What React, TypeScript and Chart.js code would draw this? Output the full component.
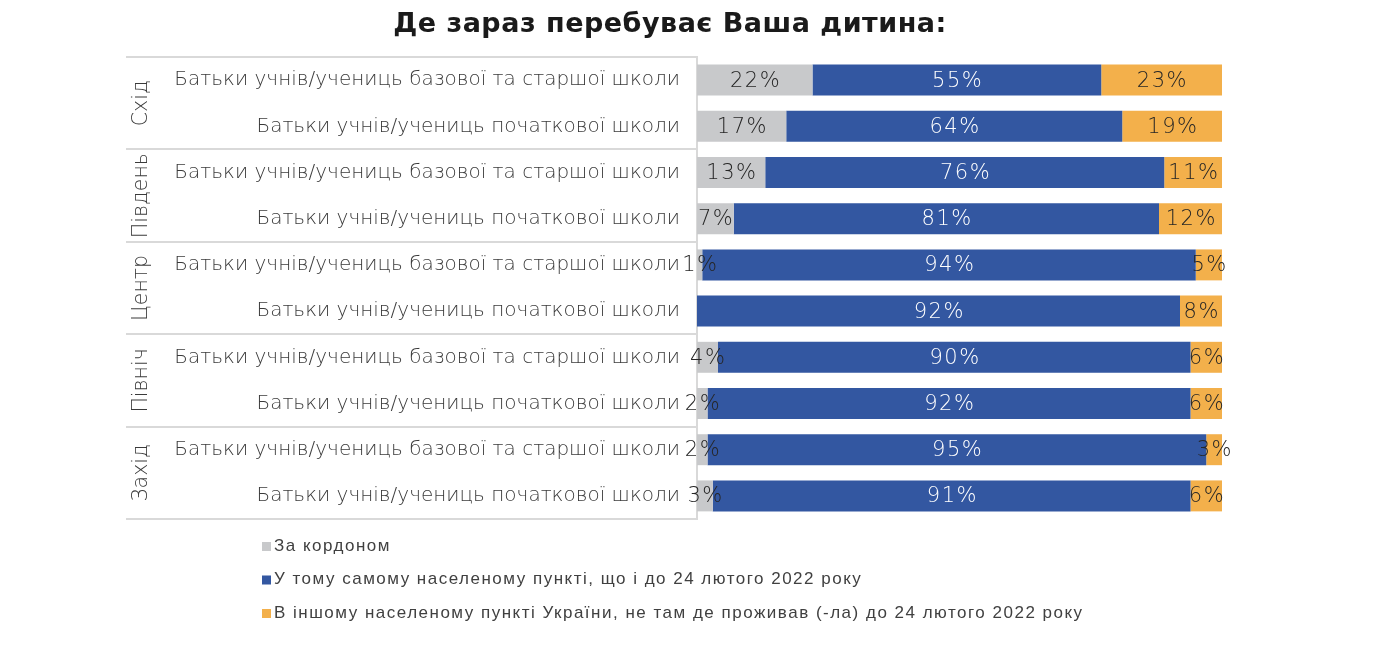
import React, { useEffect, useRef } from "react";
import { Chart, registerables } from "chart.js";

Chart.register(...registerables);

const title = "Де зараз перебуває Ваша дитина:";
const groups = ["Схід", "Південь", "Центр", "Північ", "Захід"];
const categories = [
  "Батьки учнів/учениць базової та старшої школи",
  "Батьки учнів/учениць початкової школи",
  "Батьки учнів/учениць базової та старшої школи",
  "Батьки учнів/учениць початкової школи",
  "Батьки учнів/учениць базової та старшої школи",
  "Батьки учнів/учениць початкової школи",
  "Батьки учнів/учениць базової та старшої школи",
  "Батьки учнів/учениць початкової школи",
  "Батьки учнів/учениць базової та старшої школи",
  "Батьки учнів/учениць початкової школи",
];
const abroad = [22, 17, 13, 7, 1, 0, 4, 2, 2, 3];
const sameTown = [55, 64, 76, 81, 94, 92, 90, 92, 95, 91];
const otherTown = [23, 19, 11, 12, 5, 8, 6, 6, 3, 6];
const seriesNames = [
  "За кордоном",
  "У тому самому населеному пункті, що і до 24 лютого 2022 року",
  "В іншому населеному пункті України, не там де проживав (-ла) до 24 лютого 2022 року",
];
const seriesColors = ["#c8c9cb", "#3357a1", "#f3b04b"];
const labelColors = ["#262626", "#ffffff", "#262626"];

const TEXT_FONT = "'DejaVu Sans', sans-serif";
const LEGEND_FONT = "'Liberation Sans', Arial, sans-serif";
const NUM_FONT = "'DejaVu Sans', sans-serif";

const spacing = {
  id: "spacing",
  beforeDraw(chart: any) {
    (chart.ctx as any).letterSpacing = "0px";
  },
};

const overlay = {
  id: "overlay",
  afterDraw(chart: any) {
    const ctx = chart.ctx as any;
    const y = chart.scales.y;
    const area = chart.chartArea;
    ctx.save();
    // title
    ctx.fillStyle = "#1a1a1a";
    ctx.font = `bold 27px ${NUM_FONT}`;
    ctx.letterSpacing = "0.5px";
    ctx.textAlign = "center";
    ctx.textBaseline = "middle";
    ctx.fillText(title, 662, 17);
    ctx.letterSpacing = "0px";

    // separators
    const band = y.getPixelForValue(1) - y.getPixelForValue(0);
    ctx.strokeStyle = "#d9d9d9";
    ctx.lineWidth = 2;
    for (let g = 0; g <= groups.length; g++) {
      const py = Math.round(y.getPixelForValue(g * 2) - band / 2);
      ctx.beginPath();
      ctx.moveTo(118, py);
      ctx.lineTo(area.left, py);
      ctx.stroke();
    }
    // group labels
    ctx.fillStyle = "#3a3a3a";
    ctx.font = `200 20.5px ${TEXT_FONT}`;
    groups.forEach((g, i) => {
      const cy = (y.getPixelForValue(i * 2) + y.getPixelForValue(i * 2 + 1)) / 2;
      ctx.save();
      ctx.translate(134, cy);
      ctx.rotate(-Math.PI / 2);
      ctx.textAlign = "center";
      ctx.textBaseline = "middle";
      ctx.fillText(g, 0, 0);
      ctx.restore();
    });

    // data labels
    ctx.font = `200 21px ${NUM_FONT}`;
    ctx.letterSpacing = "1.5px";
    ctx.textAlign = "center";
    ctx.textBaseline = "middle";
    chart.data.datasets.forEach((ds: any, di: number) => {
      const meta = chart.getDatasetMeta(di);
      meta.data.forEach((el: any, i: number) => {
        const v = ds.data[i];
        if (!v) return;
        ctx.fillStyle = labelColors[di];
        ctx.fillText(v + "%", (el.x + el.base) / 2 + 0.75, el.y + 1);
      });
    });

    // legend
    ctx.font = `17px ${LEGEND_FONT}`;
    ctx.letterSpacing = "1.5px";
    ctx.textAlign = "left";
    ctx.textBaseline = "middle";
    chart.data.datasets.forEach((ds: any, di: number) => {
      const ly = 538 + di * 33.5;
      ctx.fillStyle = ds.backgroundColor;
      ctx.fillRect(254, ly - 4, 9, 9);
      ctx.fillStyle = "#404040";
      ctx.fillText(ds.label, 266, ly);
    });
    ctx.letterSpacing = "0px";
    ctx.restore();
  },
};

export default function App() {
  const ref = useRef<HTMLCanvasElement>(null);
  useEffect(() => {
    const data = [abroad, sameTown, otherTown];
    const chart = new Chart(ref.current!, {
      type: "bar",
      data: {
        labels: categories,
        datasets: data.map((d, i) => ({
          label: seriesNames[i],
          data: d,
          backgroundColor: seriesColors[i],
          borderWidth: 0,
          barPercentage: 0.67,
          categoryPercentage: 1,
        })),
      },
      options: {
        indexAxis: "y",
        animation: false,
        responsive: false,
        maintainAspectRatio: false,
        layout: { padding: { left: 0, right: 164, top: 49, bottom: 123 } },
        plugins: {
          legend: { display: false },
          tooltip: { enabled: false },
          title: { display: false },
        },
        scales: {
          x: { stacked: true, min: 0, max: 100, display: false },
          y: {
            stacked: true,
            grid: { display: false, drawTicks: false },
            border: { display: true, color: "#d9d9d9", width: 2 },
            ticks: {
              padding: 17,
              color: "#3a3a3a",
              font: { family: TEXT_FONT, size: 20, weight: "200" },
            },
            afterFit: (s: any) => {
              s.width = 689;
            },
          },
        },
      },
      plugins: [spacing, overlay],
    } as any);
    return () => chart.destroy();
  }, []);
  return <canvas ref={ref} width={1378} height={634} style={{ display: "block" }} />;
}
